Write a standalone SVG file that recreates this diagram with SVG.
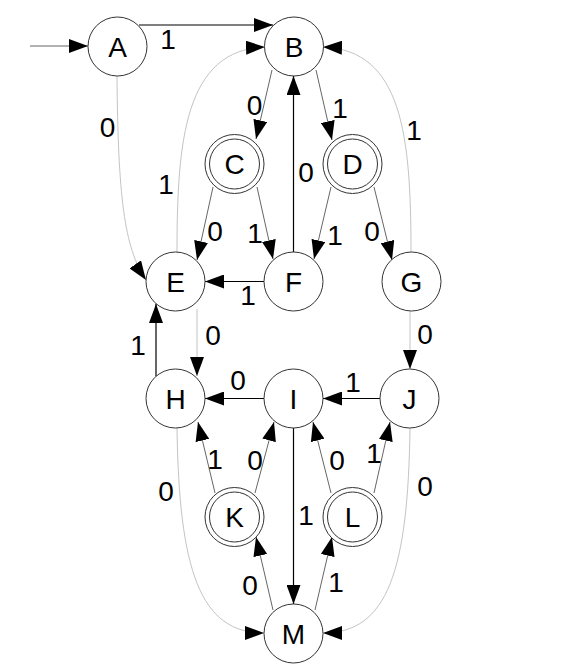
<svg xmlns="http://www.w3.org/2000/svg" width="582" height="666" viewBox="0 0 582 666">
<defs>
<marker id="ah" markerUnits="userSpaceOnUse" markerWidth="20" markerHeight="14" refX="19" refY="7" orient="auto">
<path d="M0,0 L19,7 L0,14 z" fill="#000"/>
</marker>
<style>
.n circle{fill:#fff;stroke:#333;stroke-width:1}
.n text{font-family:"Liberation Sans",Arial,sans-serif;font-size:28px;text-anchor:middle;fill:#000}
.lbl{font-family:"Liberation Sans",Arial,sans-serif;font-size:28px;text-anchor:middle;fill:#000}
.e{fill:none;marker-end:url(#ah)}
.k{stroke:#000;stroke-width:1.2}
.d{stroke:#666;stroke-width:1}
.g{stroke:#c4c4c4;stroke-width:1}
</style>
</defs>
<rect width="582" height="666" fill="#fff"/>
<g id="connectors">
<path class="e d" d="M30,46 L88,46"/>
<path class="e k" d="M139,25 L273,25"/>
<path class="e g" d="M117,76 C118,195 124,248 146,280"/>
<path class="e g" d="M177,252 C177,140 185,50 265,47"/>
<path class="e g" d="M411,252 C411,135 402,50 323,47"/>
<path class="e d" d="M272,70 L256,139"/>
<path class="e d" d="M316,70 L332,140"/>
<path class="e k" d="M293.5,252 L293.5,76"/>
<path class="e d" d="M213,187 L197,260"/>
<path class="e d" d="M257,187 L273,259"/>
<path class="e d" d="M331,187 L314,259"/>
<path class="e d" d="M374,187 L392,260"/>
<path class="e k" d="M264,281.5 L205,281.5"/>
<path class="e g" d="M197,309 L197,376"/>
<path class="e k" d="M156,376 L156,304"/>
<path class="e g" d="M410,311 L410,369"/>
<path class="e k" d="M264,398.5 L205,398.5"/>
<path class="e k" d="M380,398.5 L323,398.5"/>
<path class="e d" d="M215,493 L198,422"/>
<path class="e d" d="M255,493 L274,422"/>
<path class="e d" d="M331,493 L313,422"/>
<path class="e d" d="M374,493 L390,422"/>
<path class="e k" d="M293.5,428 L293.5,604"/>
<path class="e d" d="M273,610 L256,537"/>
<path class="e d" d="M315,610 L332,537"/>
<path class="e g" d="M177,428 C179,570 200,633 264,633"/>
<path class="e g" d="M410,428 C408,570 388,633 323,633"/>
</g>
<g id="labels">
<text class="lbl" x="168" y="49">1</text>
<text class="lbl" x="107.5" y="137">0</text>
<text class="lbl" x="166" y="194">1</text>
<text class="lbl" x="254.5" y="115">0</text>
<text class="lbl" x="340" y="118">1</text>
<text class="lbl" x="414" y="140">1</text>
<text class="lbl" x="306" y="182">0</text>
<text class="lbl" x="215" y="241">0</text>
<text class="lbl" x="255" y="243">1</text>
<text class="lbl" x="335" y="245">1</text>
<text class="lbl" x="372" y="241">0</text>
<text class="lbl" x="248" y="305">1</text>
<text class="lbl" x="213" y="345">0</text>
<text class="lbl" x="138" y="355">1</text>
<text class="lbl" x="425" y="344">0</text>
<text class="lbl" x="238" y="390">0</text>
<text class="lbl" x="353" y="392">1</text>
<text class="lbl" x="215" y="469">1</text>
<text class="lbl" x="255" y="470">0</text>
<text class="lbl" x="337" y="470">0</text>
<text class="lbl" x="374" y="463">1</text>
<text class="lbl" x="166" y="501">0</text>
<text class="lbl" x="425" y="496">0</text>
<text class="lbl" x="306" y="525">1</text>
<text class="lbl" x="250" y="595">0</text>
<text class="lbl" x="336" y="592">1</text>
</g>
<g id="A" class="n"><circle cx="117.5" cy="46.5" r="29.5"/><text x="117.5" y="56.5">A</text></g>
<g id="B" class="n"><circle cx="294" cy="46.5" r="29.5"/><text x="294" y="56.5">B</text></g>
<g id="C" class="n"><circle cx="234.5" cy="164" r="29.5"/><circle cx="234.5" cy="164" r="25"/><text x="234.5" y="174">C</text></g>
<g id="D" class="n"><circle cx="352.5" cy="164" r="29.5"/><circle cx="352.5" cy="164" r="25"/><text x="352.5" y="174">D</text></g>
<g id="E" class="n"><circle cx="175.5" cy="281.5" r="29.5"/><text x="175.5" y="291.5">E</text></g>
<g id="F" class="n"><circle cx="293.5" cy="281.5" r="29.5"/><text x="293.5" y="291.5">F</text></g>
<g id="G" class="n"><circle cx="411.5" cy="281.5" r="29.5"/><text x="411.5" y="291.5">G</text></g>
<g id="H" class="n"><circle cx="175.5" cy="398.5" r="29.5"/><text x="175.5" y="408.5">H</text></g>
<g id="I" class="n"><circle cx="293.5" cy="398.5" r="29.5"/><text x="293.5" y="408.5">I</text></g>
<g id="J" class="n"><circle cx="409.5" cy="398.5" r="29.5"/><text x="409.5" y="408.5">J</text></g>
<g id="K" class="n"><circle cx="234.5" cy="517" r="29.5"/><circle cx="234.5" cy="517" r="25"/><text x="234.5" y="527">K</text></g>
<g id="L" class="n"><circle cx="352.5" cy="517" r="29.5"/><circle cx="352.5" cy="517" r="25"/><text x="352.5" y="527">L</text></g>
<g id="M" class="n"><circle cx="293.5" cy="633.5" r="29.5"/><text x="293.5" y="643.5">M</text></g>
</svg>
